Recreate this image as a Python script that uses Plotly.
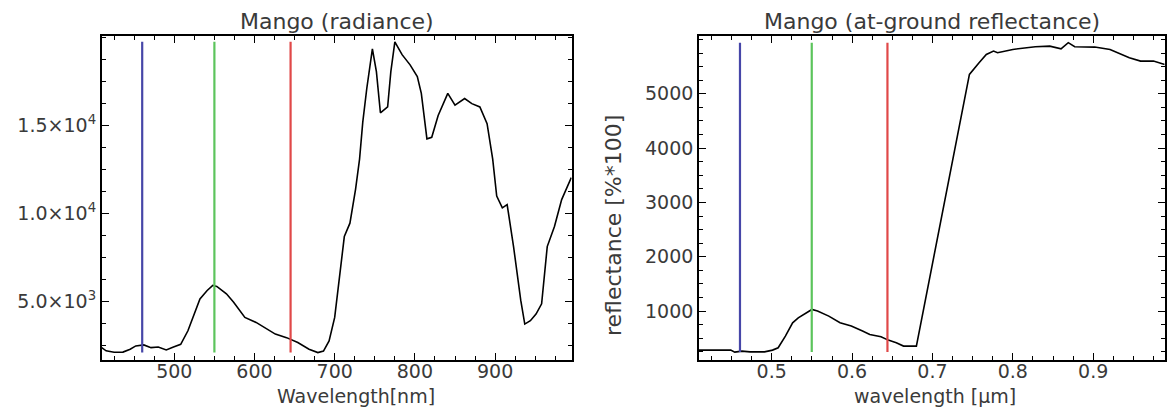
import plotly.graph_objects as go

# ---------------- data ----------------
rad_wl = [409.5, 415, 425, 436, 445, 452, 462, 471, 480, 490, 499, 508, 517, 525, 532,
          541, 548, 553, 565, 574, 588, 602, 612, 626, 640, 654, 668, 679, 686, 693,
          700, 707, 712, 719, 726, 731, 735, 740, 747, 752, 757, 766, 770, 775, 784,
          794, 803, 808, 815, 821, 829, 841, 850, 862, 871, 881, 890, 897, 902, 909,
          915, 923, 932, 937, 944, 951, 958, 965, 974, 983, 995]
rad_val = [2380, 2200, 2120, 2130, 2290, 2480, 2535, 2380, 2420, 2250, 2420, 2570, 3340, 4290, 5150,
           5630, 5920, 5860, 5440, 4960, 4100, 3815, 3530, 3150, 2950, 2670, 2290, 2100, 2190, 2760,
           4100, 6970, 8690, 9450, 11370, 13090, 15190, 17100, 19350, 18060, 15720, 16050, 18060, 19750, 19020,
           18440, 17770, 16820, 14240, 14330, 15570, 16820, 16150, 16530, 16240, 16050, 15100, 13090, 10985, 10320,
           10510, 8120, 5060, 3720, 3910, 4290, 4870, 8120, 9260, 10790, 12040]

ref_wl = [0.4095, 0.449, 0.454, 0.463, 0.473, 0.491, 0.501, 0.508, 0.517, 0.526, 0.533,
          0.543, 0.550, 0.557, 0.571, 0.585, 0.599, 0.613, 0.622, 0.636, 0.645, 0.655,
          0.664, 0.680, 0.700, 0.720, 0.746, 0.758, 0.767, 0.776,
          0.781, 0.800, 0.828, 0.846, 0.860, 0.869, 0.877, 0.902, 0.921, 0.945, 0.959,
          0.975, 0.989]
ref_val = [282, 282, 245, 264, 250, 250, 282, 325, 540, 785, 877,
           970, 1030, 1000, 908, 785, 724, 632, 570, 528, 466, 417,
           356, 356, 1880, 3400, 5356, 5571, 5724, 5785,
           5755, 5816, 5865, 5877, 5828, 5940, 5865, 5859, 5816, 5663, 5601,
           5601, 5540]

band_nm = [460, 550, 645]
band_um = [0.4605, 0.5498, 0.644]
band_colors = ["#4646a8", "#5cc45c", "#e04848"]

rad_ticks = [5000, 10000, 15000]
rad_ticktext = ["5.0×10<sup>3</sup>", "1.0×10<sup>4</sup>", "1.5×10<sup>4</sup>"]
rad_xticks = [500, 600, 700, 800, 900]
ref_xticks = [0.5, 0.6, 0.7, 0.8, 0.9]
ref_yticks = [1000, 2000, 3000, 4000, 5000]

# ---------------- figure ----------------
W, H = 1174, 408
FONT = "DejaVu Sans"
TXT = "#3a3a3a"

fig = go.Figure()

# left: radiance
fig.add_trace(go.Scatter(x=rad_wl, y=rad_val, mode="lines",
                         line=dict(color="black", width=1.6), xaxis="x", yaxis="y",
                         showlegend=False))
for b, c in zip(band_nm, band_colors):
    fig.add_trace(go.Scatter(x=[b, b], y=[min(rad_val), max(rad_val)], mode="lines",
                             line=dict(color=c, width=2.2), xaxis="x", yaxis="y",
                             showlegend=False))

# right: reflectance
fig.add_trace(go.Scatter(x=ref_wl, y=ref_val, mode="lines",
                         line=dict(color="black", width=1.6), xaxis="x2", yaxis="y2",
                         showlegend=False))
for b, c in zip(band_um, band_colors):
    fig.add_trace(go.Scatter(x=[b, b], y=[min(ref_val), max(ref_val)], mode="lines",
                             line=dict(color=c, width=2.2), xaxis="x2", yaxis="y2",
                             showlegend=False))

def px(x):
    return x / W

def py(y):
    return 1 - y / H

ydom = [py(360), py(36)]

axis_common = dict(showline=True, linecolor="black", linewidth=1.6, mirror="allticks",
                   ticks="inside", ticklen=7, tickwidth=1.3, tickcolor="black",
                   showgrid=False, zeroline=False,
                   tickfont=dict(family=FONT, size=19, color=TXT))

fig.update_layout(
    width=W, height=H,
    margin=dict(l=0, r=0, t=0, b=0),
    paper_bgcolor="white", plot_bgcolor="white",
    xaxis=dict(domain=[px(101.7), px(571.7)], range=[409.5, 995.5], anchor="y",
               tickvals=rad_xticks, ticklabelstandoff=-7,
               minor=dict(dtick=25, tick0=400, ticklen=4, ticks="inside", tickcolor="black", tickwidth=1.2),
               **axis_common),
    yaxis=dict(domain=ydom, range=[1680, 20080], anchor="x",
               tickvals=rad_ticks, ticktext=rad_ticktext,
               minor=dict(dtick=1250, tick0=0, ticklen=4, ticks="inside", tickcolor="black", tickwidth=1.2),
               **axis_common),
    xaxis2=dict(domain=[px(699), px(1164.7)], range=[0.4095, 0.989], anchor="y2",
                tickvals=ref_xticks, ticktext=["0.5", "0.6", "0.7", "0.8", "0.9"],
                ticklabelstandoff=-7,
                minor=dict(dtick=0.025, tick0=0.4, ticklen=4, ticks="inside", tickcolor="black", tickwidth=1.2),
                **axis_common),
    yaxis2=dict(domain=ydom, range=[100, 6063], anchor="x2",
                tickvals=ref_yticks,
                minor=dict(dtick=250, tick0=0, ticklen=4, ticks="inside", tickcolor="black", tickwidth=1.2),
                **axis_common),
)

ann_font = dict(family=FONT, size=19, color=TXT)
fig.add_annotation(text="Mango (radiance)", xref="paper", yref="paper",
                   x=px(337), y=py(36), xanchor="center", yanchor="bottom",
                   showarrow=False, font=dict(family=FONT, size=22, color=TXT))
fig.add_annotation(text="Mango (at-ground reflectance)", xref="paper", yref="paper",
                   x=px(932), y=py(36), xanchor="center", yanchor="bottom",
                   showarrow=False, font=dict(family=FONT, size=22, color=TXT))
fig.add_annotation(text="Wavelength[nm]", xref="paper", yref="paper",
                   x=px(356), y=py(396), xanchor="center", yanchor="middle",
                   showarrow=False, font=ann_font)
fig.add_annotation(text="wavelength [μm]", xref="paper", yref="paper",
                   x=px(935), y=py(396), xanchor="center", yanchor="middle",
                   showarrow=False, font=ann_font)
fig.add_annotation(text="reflectance [%*100]", xref="paper", yref="paper",
                   x=px(613), y=py(226), xanchor="center", yanchor="middle",
                   textangle=-90, showarrow=False, font=dict(family=FONT, size=22, color=TXT))

fig.write_html("out.html")
